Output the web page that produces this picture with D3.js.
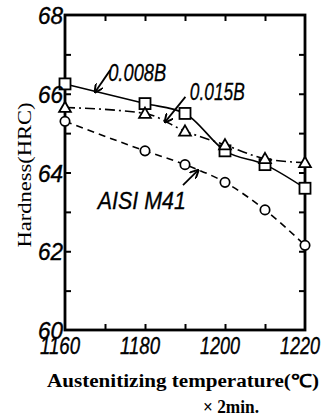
<!DOCTYPE html>
<html>
<head>
<meta charset="utf-8">
<script src="https://cdn.jsdelivr.net/npm/d3@7"></script>
<style>
  html, body { margin: 0; padding: 0; background: #fff; }
  svg { display: block; }
</style>
</head>
<body>
<svg id="chart"></svg>
<script>
// data
const temps = [1160, 1180, 1190, 1200, 1210, 1220]
const b008 = [66.25, 65.75, 65.5, 64.55, 64.2, 63.6]
const b015 = [65.65, 65.5, 65.05, 64.7, 64.35, 64.25]
const m41 = [65.3, 64.55, 64.2, 63.75, 63.05, 62.15]

const xTickLabels = [1160, 1180, 1200, 1220]
const yTickLabels = [60, 62, 64, 66, 68]
const xMinorTicks = [1170, 1180, 1190, 1200, 1210]
const yMinorTicks = [61, 62, 63, 64, 65, 66, 67]

const W = 321, H = 418
const margin = { top: 15, right: 16, bottom: 88, left: 65 }

const svg = d3.select('#chart').attr('width', W).attr('height', H)

const x = d3.scaleLinear().domain([1160, 1220]).range([margin.left, W - margin.right])
const y = d3.scaleLinear().domain([60, 68]).range([H - margin.bottom, margin.top])

const ink = '#000'
const g = svg.append('g')

// inward ticks on all four sides
const tl = 6
g.append('g').call(d3.axisBottom(x).tickValues(xMinorTicks).tickSize(tl).tickFormat(''))
  .attr('transform', 'translate(0,' + (y(60) - tl) + ')')
g.append('g').call(d3.axisTop(x).tickValues(xMinorTicks).tickSize(tl).tickFormat(''))
  .attr('transform', 'translate(0,' + (y(68) + tl) + ')')
g.append('g').call(d3.axisRight(y).tickValues(yMinorTicks).tickSize(tl).tickFormat(''))
  .attr('transform', 'translate(' + x(1160) + ',0)')
g.append('g').call(d3.axisLeft(y).tickValues(yMinorTicks).tickSize(tl).tickFormat(''))
  .attr('transform', 'translate(' + x(1220) + ',0)')
g.selectAll('.domain').remove()
g.selectAll('.tick line').attr('stroke', ink).attr('stroke-width', 2)

// frame
g.append('rect')
  .attr('x', x(1160)).attr('y', y(68))
  .attr('width', x(1220) - x(1160)).attr('height', y(60) - y(68))
  .attr('fill', 'none').attr('stroke', ink).attr('stroke-width', 2.8)

// tick labels, italic and narrow like the original
svg.selectAll('.ylab').data(yTickLabels).enter().append('text')
  .attr('class', 'ylab')
  .attr('x', 63).attr('y', d => y(d) + 9)
  .attr('text-anchor', 'end')
  .attr('font-family', 'Liberation Sans, sans-serif')
  .attr('font-style', 'italic')
  .attr('font-size', 24)
  .attr('textLength', 25).attr('lengthAdjust', 'spacingAndGlyphs')
  .attr('fill', ink).attr('stroke', ink).attr('stroke-width', 0.4)
  .text(d => d)

svg.selectAll('.xlab').data(xTickLabels).enter().append('text')
  .attr('class', 'xlab')
  .attr('x', d => x(d) - 25).attr('y', 354)
  .attr('font-family', 'Liberation Sans, sans-serif')
  .attr('font-style', 'italic')
  .attr('font-size', 24)
  .attr('textLength', 40).attr('lengthAdjust', 'spacingAndGlyphs')
  .attr('fill', ink).attr('stroke', ink).attr('stroke-width', 0.4)
  .text(d => d)

// axis titles
svg.append('text')
  .attr('x', 47).attr('y', 387)
  .attr('font-family', 'Liberation Serif, serif')
  .attr('font-weight', 'bold')
  .attr('font-size', 18)
  .attr('textLength', 272).attr('lengthAdjust', 'spacingAndGlyphs')
  .attr('fill', ink)
  .text('Austenitizing temperature(℃)')
svg.append('text')
  .attr('x', 203).attr('y', 413)
  .attr('font-family', 'Liberation Serif, serif')
  .attr('font-weight', 'bold')
  .attr('font-size', 18)
  .attr('textLength', 56).attr('lengthAdjust', 'spacingAndGlyphs')
  .attr('fill', ink)
  .text('× 2min.')
svg.append('text')
  .attr('transform', 'translate(31,175) rotate(-90)')
  .attr('text-anchor', 'middle')
  .attr('font-family', 'Liberation Serif, serif')
  .attr('font-size', 19)
  .attr('textLength', 145).attr('lengthAdjust', 'spacingAndGlyphs')
  .attr('fill', ink)
  .text('Hardness(HRC)')

// series
const series = [
  { name: '0.008B', vals: b008, dash: null, shape: 'square' },
  { name: '0.015B', vals: b015, dash: '10,4,2,4', shape: 'triangle' },
  { name: 'AISI M41', vals: m41, dash: '7,5', shape: 'circle' }
]

const line = d3.line()
  .x(d => x(d[0]))
  .y(d => y(d[1]))
  .curve(d3.curveMonotoneX)

series.forEach(s => {
  const pts = temps.map((t, i) => [t, s.vals[i]])
  g.append('path')
    .attr('d', line(pts))
    .attr('fill', 'none')
    .attr('stroke', ink)
    .attr('stroke-width', 1.6)
    .attr('stroke-dasharray', s.dash)
})

series.forEach(s => {
  const pts = temps.map((t, i) => [t, s.vals[i]])
  const m = g.append('g').selectAll('.pt').data(pts).enter()
  if (s.shape === 'square') {
    m.append('rect')
      .attr('x', d => x(d[0]) - 5.5).attr('y', d => y(d[1]) - 5.5)
      .attr('width', 11).attr('height', 11)
      .attr('fill', '#fff').attr('stroke', ink).attr('stroke-width', 1.8)
  } else if (s.shape === 'triangle') {
    m.append('path')
      .attr('d', d3.symbol(d3.symbolTriangle, 60))
      .attr('transform', d => 'translate(' + x(d[0]) + ',' + (y(d[1]) + 1) + ')')
      .attr('fill', '#fff').attr('stroke', ink).attr('stroke-width', 1.8)
  } else {
    m.append('circle')
      .attr('cx', d => x(d[0])).attr('cy', d => y(d[1]))
      .attr('r', 4.7)
      .attr('fill', '#fff').attr('stroke', ink).attr('stroke-width', 1.7)
  }
})

// annotations: label + arrow, in data units
const notes = [
  { text: '0.008B', tx: 1170.8, ty: 66.32, len: 58, from: [1171.3, 66.6], to: [1167.5, 66.04] },
  { text: '0.015B', tx: 1191.2, ty: 65.84, len: 55, from: [1190.1, 65.92], to: [1185, 65.28] },
  { text: 'AISI M41', tx: 1168.2, ty: 63.07, len: 88, from: [1189.5, 63.68], to: [1193.3, 64.06] }
]

svg.append('defs').append('marker')
  .attr('id', 'head')
  .attr('viewBox', '0 0 10 10')
  .attr('refX', 9).attr('refY', 5)
  .attr('markerWidth', 9).attr('markerHeight', 9)
  .attr('markerUnits', 'userSpaceOnUse')
  .attr('orient', 'auto')
  .append('path')
  .attr('d', 'M0,0 L10,5 L0,10')
  .attr('fill', 'none').attr('stroke', ink).attr('stroke-width', 2.2)

notes.forEach(n => {
  svg.append('text')
    .attr('x', x(n.tx)).attr('y', y(n.ty))
    .attr('font-family', 'Liberation Sans, sans-serif')
    .attr('font-style', 'italic')
    .attr('font-size', 23)
    .attr('textLength', n.len).attr('lengthAdjust', 'spacingAndGlyphs')
    .attr('fill', ink).attr('stroke', ink).attr('stroke-width', 0.3)
    .text(n.text)
  svg.append('line')
    .attr('x1', x(n.from[0])).attr('y1', y(n.from[1]))
    .attr('x2', x(n.to[0])).attr('y2', y(n.to[1]))
    .attr('stroke', ink).attr('stroke-width', 1.8)
    .attr('marker-end', 'url(#head)')
})
</script>
</body>
</html>
